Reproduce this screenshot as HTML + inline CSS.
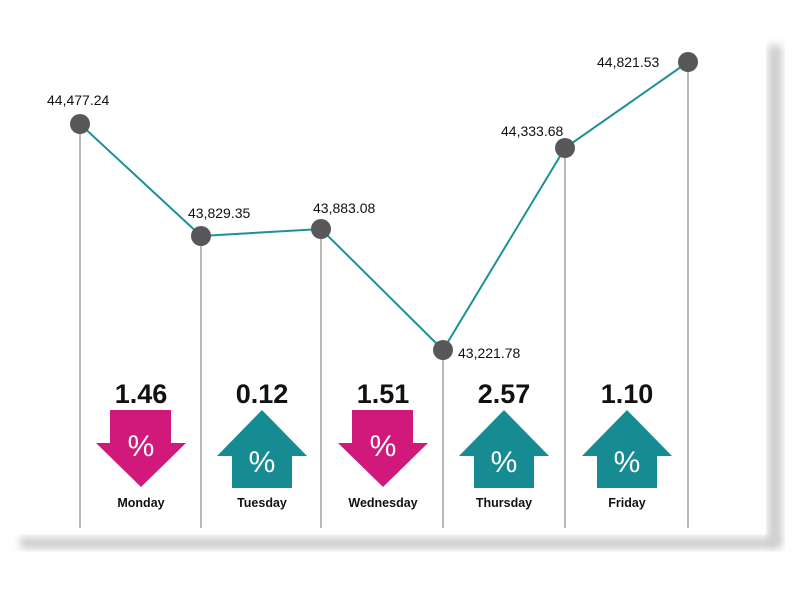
<!DOCTYPE html>
<html><head><style>
body{margin:0;background:#fff;width:800px;height:600px;overflow:hidden}
</style></head><body>
<svg width="800" height="600" xmlns="http://www.w3.org/2000/svg" font-family="Liberation Sans, sans-serif">
<defs>
<filter id="b" x="-20%" y="-20%" width="140%" height="140%"><feGaussianBlur stdDeviation="4"/></filter>
</defs>
<rect x="768" y="45" width="14" height="500" fill="#cfcfcf" filter="url(#b)"/>
<rect x="20" y="537" width="760" height="12" fill="#cfcfcf" filter="url(#b)"/>
<rect x="0" y="0" width="766" height="533" fill="#fff"/>
<g stroke="#888" stroke-width="1.2">
<line x1="80" y1="124" x2="80" y2="528"/>
<line x1="201" y1="236" x2="201" y2="528"/>
<line x1="321" y1="229" x2="321" y2="528"/>
<line x1="443" y1="350" x2="443" y2="528"/>
<line x1="565" y1="148" x2="565" y2="528"/>
<line x1="688" y1="62" x2="688" y2="528"/>
</g>
<polyline points="80,124 201,236 321,229 443,350 565,148 688,62" fill="none" stroke="#1a9196" stroke-width="2"/>
<g fill="#58585a">
<circle cx="80" cy="124" r="10"/><circle cx="201" cy="236" r="10"/><circle cx="321" cy="229" r="10"/>
<circle cx="443" cy="350" r="10"/><circle cx="565" cy="148" r="10"/><circle cx="688" cy="62" r="10"/>
</g>
<g font-size="14" fill="#111">
<text x="47" y="105">44,477.24</text>
<text x="188" y="218">43,829.35</text>
<text x="313" y="213">43,883.08</text>
<text x="458" y="358">43,221.78</text>
<text x="501" y="136">44,333.68</text>
<text x="597" y="67">44,821.53</text>
</g>
<g font-size="27" font-weight="bold" fill="#111" text-anchor="middle">
<text x="141" y="403">1.46</text><text x="262" y="403">0.12</text><text x="383" y="403">1.51</text>
<text x="504" y="403">2.57</text><text x="627" y="403">1.10</text>
</g>
<path d="M110,410H171V443H186L141,487L96,443H110Z" fill="#d0197a"/>
<path d="M352,410H413V443H428L383,487L338,443H352Z" fill="#d0197a"/>
<path d="M262,410L307,456H292V488H232V456H217Z" fill="#168c92"/>
<path d="M504,410L549,456H534V488H474V456H459Z" fill="#168c92"/>
<path d="M627,410L672,456H657V488H597V456H582Z" fill="#168c92"/>
<g font-size="30" fill="#fff" text-anchor="middle">
<text x="141" y="456">%</text><text x="383" y="456">%</text>
<text x="262" y="472">%</text><text x="504" y="472">%</text><text x="627" y="472">%</text>
</g>
<g font-size="12.5" font-weight="bold" fill="#111" text-anchor="middle">
<text x="141" y="507">Monday</text><text x="262" y="507">Tuesday</text><text x="383" y="507">Wednesday</text>
<text x="504" y="507">Thursday</text><text x="627" y="507">Friday</text>
</g>
</svg>
</body></html>
